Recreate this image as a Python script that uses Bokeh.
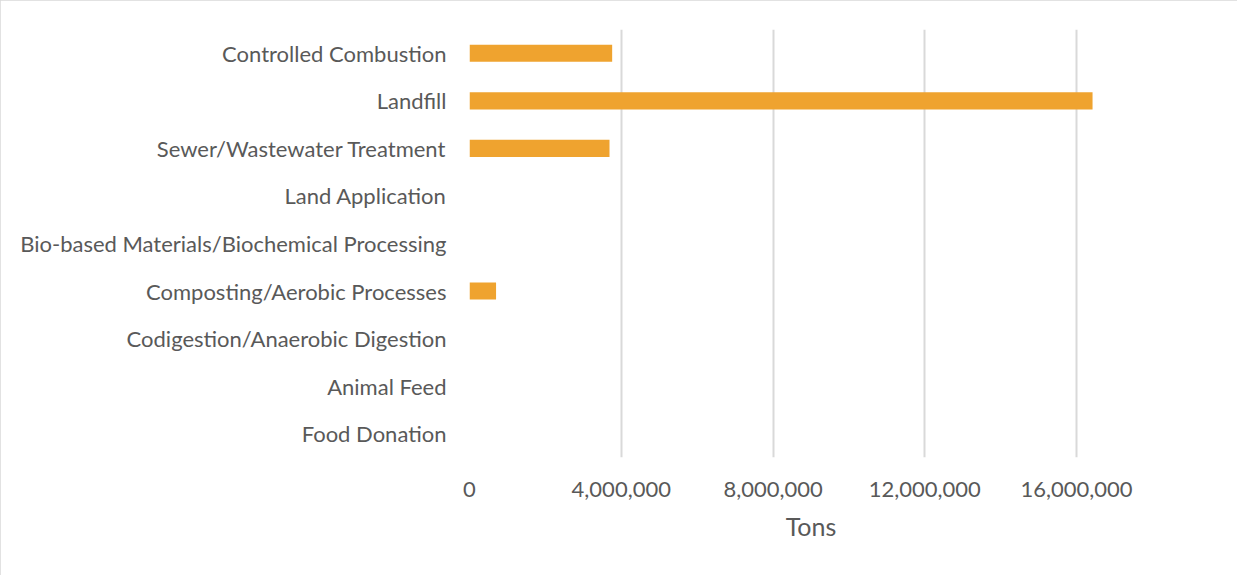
from bokeh.plotting import figure
from bokeh.embed import file_html
from bokeh.resources import INLINE
from bokeh.models import FixedTicker, NumeralTickFormatter, ColumnDataSource

categories = [
    "Food Donation",
    "Animal Feed",
    "Codigestion/Anaerobic Digestion",
    "Composting/Aerobic Processes",
    "Bio-based Materials/Biochemical Processing",
    "Land Application",
    "Sewer/Wastewater Treatment",
    "Landfill",
    "Controlled Combustion",
]
tons = [0, 0, 0, 700000, 0, 0, 3690000, 16420000, 3760000]
x_ticks = [0, 4000000, 8000000, 12000000, 16000000]

FONT = "Lato"
TXT = "#595959"

src = ColumnDataSource(dict(cat=categories, tons=tons))

p = figure(
    width=1237, height=575,
    y_range=categories, x_range=(0, 18000000),
    output_backend="svg", toolbar_location=None,
    min_border_left=469, min_border_right=85,
    min_border_top=29, min_border_bottom=118,
    styles={"outline": "1px solid #D9D9D9", "outline-offset": "-1px"},
)
p.hbar(y="cat", right="tons", left=0, height=0.36, source=src,
       fill_color="#EFA32F", line_color=None)

p.outline_line_color = None
p.ygrid.grid_line_color = None
p.xgrid.grid_line_color = "#D9D9D9"
p.xgrid.grid_line_width = 2
p.xaxis.ticker = FixedTicker(ticks=x_ticks)
p.xaxis.formatter = NumeralTickFormatter(format="0,0")

for ax in (p.xaxis[0], p.yaxis[0]):
    ax.axis_line_color = None
    ax.major_tick_line_color = None
    ax.minor_tick_line_color = None
    ax.major_label_text_font = FONT
    ax.major_label_text_font_size = "22px"
    ax.major_label_text_color = TXT

p.yaxis.major_label_standoff = 17
p.xaxis.major_label_standoff = 18
p.xaxis.axis_label = "Tons"
p.xaxis.axis_label_text_font = FONT
p.xaxis.axis_label_text_font_size = "25px"
p.xaxis.axis_label_text_font_style = "normal"
p.xaxis.axis_label_text_color = TXT
p.xaxis.axis_label_standoff = 11

open("out.html", "w").write(file_html(p, INLINE))
